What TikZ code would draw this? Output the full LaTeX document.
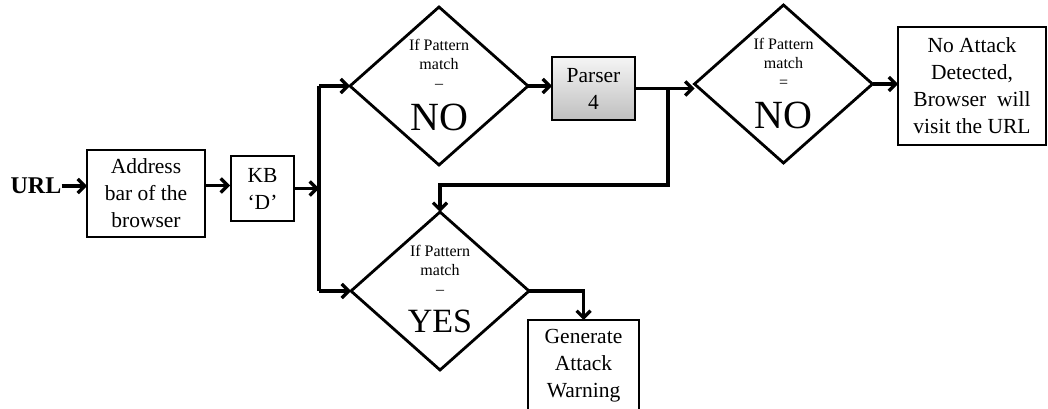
\documentclass[tikz,border=0pt]{standalone}
\usepackage{fontspec}
\setmainfont{Liberation Serif}
\usetikzlibrary{shapes.geometric,arrows.meta}
\tikzset{
  box/.style={draw, line width=2.8pt, align=center, inner sep=0pt, outer sep=0pt,
    font=\fontsize{21.5}{27}\selectfont},
  dia/.style={draw, diamond, line width=2.8pt, inner sep=0pt, outer sep=0pt,
    minimum width=178, minimum height=158},
  small/.style={align=center, inner sep=0pt, font=\fontsize{16}{19}\selectfont},
  arr/.style={line width=3.2pt, -{Straight Barb[length=7pt,width=14pt]}},
  conn/.style={line width=3.2pt}
}
\begin{document}
\begin{tikzpicture}[x=1pt,y=-1pt]
\useasboundingbox (0,0) rectangle (1048,409);
% nodes
\node[inner sep=0pt, font=\fontsize{24}{26}\selectfont\bfseries] (url) at (36,186) {URL};
\node[box, minimum width=118, minimum height=87] (addr) at (146,193.5) {Address\\bar of the\\browser};
\node[box, minimum width=63, minimum height=65] (kb) at (262.5,188.5) {KB\\`D'};
\node[dia] (d1) at (439,86) {};
\node[small] (t1) at (439,64) {If Pattern\\match\\–};
\node[inner sep=0pt, font=\fontsize{40}{40}\selectfont] (n1) at (439,117) {NO};
\node[box, minimum width=83, minimum height=63, top color=gray!8, bottom color=gray!50] (parser) at (593.5,88.5) {Parser\\4};
\node[dia] (d2) at (783.5,84) {};
\node[small] (t2) at (783.5,63) {If Pattern\\match\\=};
\node[inner sep=0pt, font=\fontsize{40}{40}\selectfont] (n2) at (783.5,115) {NO};
\node[box, minimum width=148, minimum height=118] (noatt) at (972,86) {No Attack\\Detected,\\Browser\ \ will\\visit the URL};
\node[dia] (d3) at (440,291) {};
\node[small] (t3) at (440,270) {If Pattern\\match\\–};
\node[inner sep=0pt, font=\fontsize{34}{34}\selectfont] (n3) at (440,321) {YES};
\node[box, minimum width=111, minimum height=92] (gen) at (583.5,366) {Generate\\Attack\\Warning};
% helper coordinates
\coordinate (vx) at (319,0);
\coordinate (jx) at (668,0);
\coordinate (jy) at (0,185);
% connectors
\draw[arr] (url.east) -- (url.east -| addr.west);
\draw[arr] (kb.west -| addr.east) ++(0,-3) -- ++(25,0);
\draw[arr] (kb.east) -- (kb.east -| vx);
\draw[conn] (vx |- d1.west) -- (vx |- d3.west);
\draw[arr] (vx |- d1.west) -- (d1.west);
\draw[arr] (vx |- d3.west) -- (d3.west);
\draw[arr] (d1.east) -- (parser.west |- d1.east);
\draw[arr] (parser.east) -- (parser.east -| d2.west);
\draw[arr] (parser.east -| jx) -- (jx |- jy) -| (d3.north);
\draw[arr] (d2.east) -- (d2.east -| noatt.west);
\draw[arr] (d3.east) -| (gen.north);
\end{tikzpicture}
\end{document}
